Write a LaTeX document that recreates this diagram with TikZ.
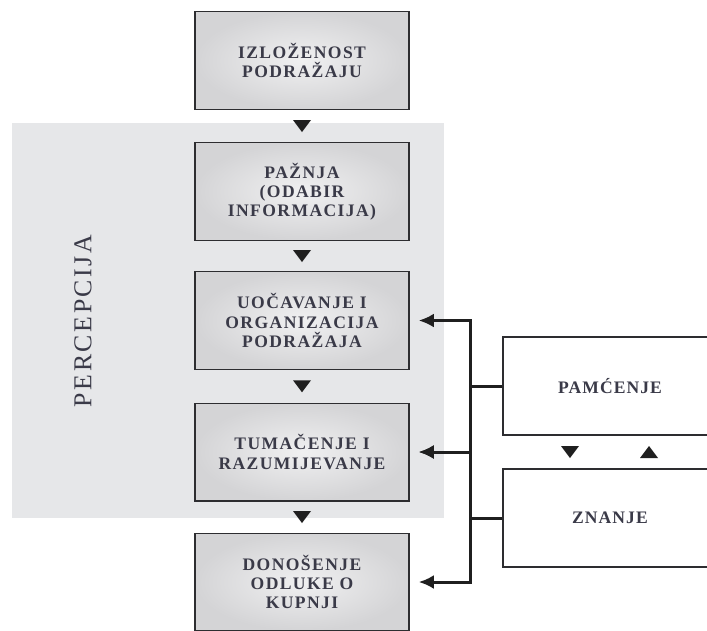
\documentclass[tikz,border=0pt]{standalone}
\usepackage{fontspec}
\setmainfont{Liberation Serif}
\newfontfamily\stagefont{Liberation Serif}[LetterSpace=8]
\newfontfamily\storefont{Liberation Serif}[LetterSpace=6]
\newfontfamily\bandfont{Liberation Serif}[LetterSpace=10]
\usepackage{tikz}
\usetikzlibrary{arrows.meta,calc}
\definecolor{bandgray}{RGB}{230,231,233}
\definecolor{edgegray}{RGB}{45,45,48}
\definecolor{inkgray}{RGB}{58,58,72}
\tikzset{
  stage/.style={draw=edgegray, line width=0.4mm, inner color={rgb,255:red,240;green,240;blue,241},
    outer color={rgb,255:red,212;green,212;blue,214}, minimum width=6.42cm, minimum height=2.93cm,
    align=center, text=inkgray, font=\stagefont\bfseries\fontsize{15}{16.4}\selectfont},
  store/.style={draw=edgegray, line width=0.4mm, fill=white, minimum width=6.42cm, minimum height=2.94cm,
    align=center, text=inkgray, font=\storefont\bfseries\fontsize{15}{16.4}\selectfont},
  link/.style={-{Latex[length=13pt,width=12pt]}, line width=0.9mm, draw=black!88, shorten >=0.27cm},
  marker/.style={fill=black!88}
}
\begin{document}
\begin{tikzpicture}[x=0.03cm,y=-0.03cm]
  \useasboundingbox (0,0) rectangle (707,630);
  \clip (0,0) rectangle (707,630);

  % perception band
  \fill[bandgray] (12,123) rectangle (444,518);
  \node[rotate=90, text=inkgray, font=\bandfont\fontsize{22}{26}\selectfont] (band) at (83,321) {PERCEPCIJA};

  % stages
  \node[stage] (izlozenost) at (302,60.5) {IZLOŽENOST\\PODRAŽAJU};
  \node[stage] (paznja) at (302,191.5) {PAŽNJA\\(ODABIR\\INFORMACIJA)};
  \node[stage] (uocavanje) at (302,320.5) {UOČAVANJE I\\ORGANIZACIJA\\PODRAŽAJA};
  \node[stage] (tumacenje) at (302,452) {TUMAČENJE I\\RAZUMIJEVANJE};
  \node[stage] (odluka) at (302,582) {DONOŠENJE\\ODLUKE O\\KUPNJI};

  % memory and knowledge
  \node[store] (pamcenje) at (610,386) {PAMĆENJE};
  \node[store] (znanje) at (610,518) {ZNANJE};

  % markers between stages
  \fill[marker] ($(izlozenost.south)!0.5!(paznja.north)$) +(-9,-6) -- +(9,-6) -- +(0,6) -- cycle;
  \fill[marker] ($(paznja.south)!0.5!(uocavanje.north)$) +(-9,-6) -- +(9,-6) -- +(0,6) -- cycle;
  \fill[marker] ($(uocavanje.south)!0.5!(tumacenje.north)$) +(-9,-6) -- +(9,-6) -- +(0,6) -- cycle;
  \fill[marker] ($(tumacenje.south)!0.5!(odluka.north)$) +(-9,-6) -- +(9,-6) -- +(0,6) -- cycle;
  \coordinate (gap) at ($(pamcenje.south)!0.5!(znanje.north)$);
  \fill[marker] ($(gap)+(-40,0)$) +(-9,-6) -- +(9,-6) -- +(0,6) -- cycle;
  \fill[marker] ($(gap)+(39,0)$) +(-9,6) -- +(9,6) -- +(0,-6) -- cycle;

  % feedback connectors
  \coordinate (bus) at (470,0);
  \draw[link] (pamcenje.west) -- (pamcenje.west -| bus) |- (uocavanje.east);
  \draw[link] (pamcenje.west -| bus) |- (tumacenje.east);
  \draw[link] (znanje.west) -- (znanje.west -| bus) |- (tumacenje.east);
  \draw[link] (znanje.west -| bus) |- (odluka.east);
\end{tikzpicture}
\end{document}
